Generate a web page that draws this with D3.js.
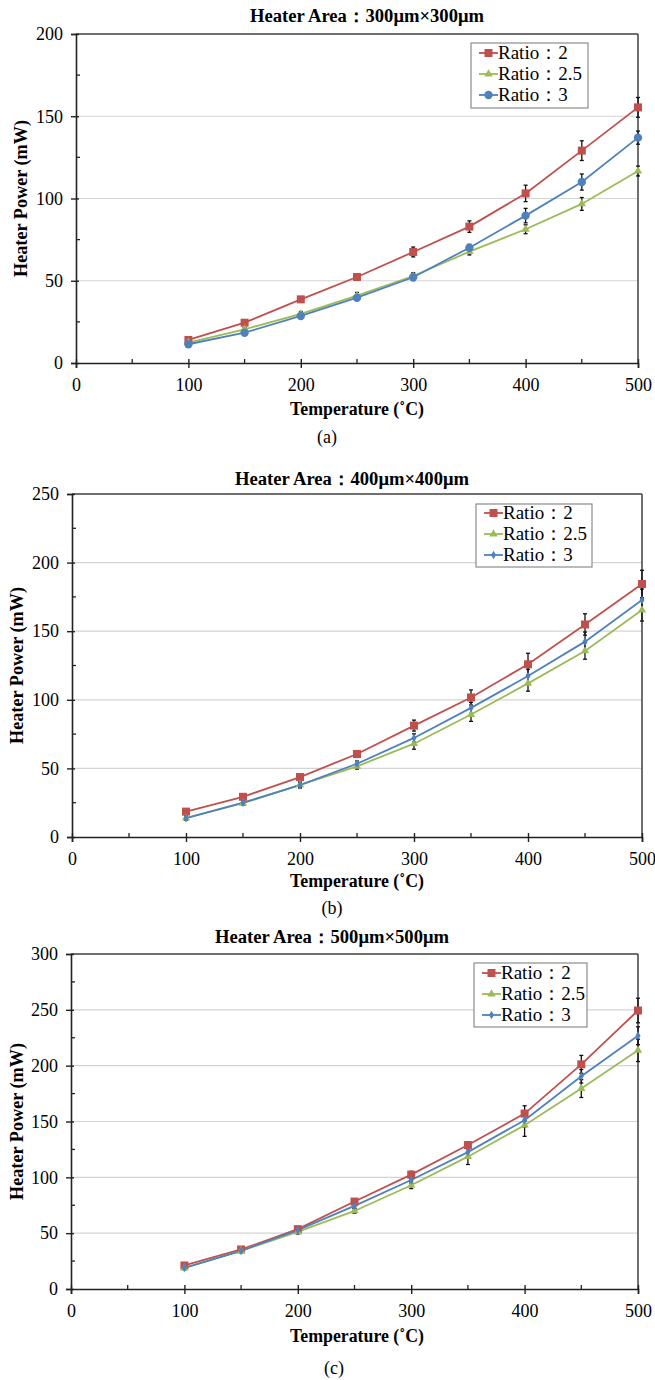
<!DOCTYPE html>
<html><head><meta charset="utf-8">
<script src="https://cdn.jsdelivr.net/npm/d3@7/dist/d3.min.js"></script>
<style>
body{margin:0;background:#fff;}
svg{display:block;}
text{font-family:"Liberation Serif","Times New Roman",serif;fill:#000;}
</style></head>
<body><svg id="c" width="655" height="1380"></svg>
<script>
// ---------- data ----------
const temps = [100,150,200,250,300,350,400,450,500];
const seriesNames = ["Ratio：2","Ratio：2.5","Ratio：3"];
const chartTitles = ["Heater Area：300μm×300μm","Heater Area：400μm×400μm","Heater Area：500μm×500μm"];
const captions = ["(a)","(b)","(c)"];
const xTicks = [0,100,200,300,400,500];
const yMaxes = [200,250,300];

// (a) 300um
const a_r2  = [14.0,24.5,38.7,52.3,67.5,82.9,103.1,129.1,155.4];
const a_r25 = [12.4,20.5,29.8,40.9,52.9,67.7,81.3,96.7,116.7];
const a_r3  = [11.4,18.4,28.6,39.7,52.1,70.1,89.6,110.0,137.0];
const a_e2  = [1.5,1.5,1.5,2,3,3.5,5,6,6];
const a_e25 = [1,1,1.5,2,2,2,2.7,3.9,3];
const a_e3  = [1,1,1,1.5,2,2,4.4,4.9,4];
// (b) 400um
const b_r2  = [18.5,29.3,43.7,60.5,81.2,101.7,125.9,154.9,184.4];
const b_r25 = [13.7,24.6,38.0,51.5,68.0,89.3,112.0,135.6,165.4];
const b_r3  = [13.7,25.0,37.8,53.4,72.2,94.1,117.3,142.4,172.7];
const b_e2  = [2,1.5,2,2.5,4,5.5,8,7.8,10];
const b_e25 = [1.5,1.5,2,2,4,5,5.7,6,8];
const b_e3  = [1.5,1.5,2,2,3,4,5,7,8];
// (c) 500um
const c_r2  = [21.1,35.4,53.6,78.3,102.4,128.9,157.1,201.2,249.4];
const c_r25 = [18.8,34.2,51.2,69.9,92.9,118.5,146.7,179.5,213.7];
const c_r3  = [19.0,34.2,52.7,74.4,97.6,122.6,151.2,190.5,226.8];
const c_e2  = [1.5,1.5,2,2,3,3,7,8,11];
const c_e25 = [1.5,1.5,2,2,3,7,10,8,10];
const c_e3  = [1.5,1.5,2,2,3,4,6,6,8];

const colors = ["#c0504d","#9bbb59","#4f81bd"];

// ---------- layout ----------
const layouts = [
  {x0:76,x1:638,yT:34,yB:363,titleX:367,titleY:22,yTitleX:21,xlab:390,xTitle:415,capX:327,capY:443,
   leg:[471,43,588,108],rows:[53,74,95],blue:"circle"},
  {x0:72,x1:642,yT:494,yB:837,titleX:352,titleY:485,yTitleX:17,xlab:864,xTitle:887,capX:332,capY:914,
   leg:[476,504,592,567],rows:[513,534,555],blue:"diamond"},
  {x0:71,x1:638,yT:954,yB:1289,titleX:332,titleY:943,yTitleX:17,xlab:1316,xTitle:1342,capX:334,capY:1374,
   leg:[474,963,587,1027],rows:[973,994,1015],blue:"diamond"}
];
const allSeries = [[a_r2,a_r25,a_r3],[b_r2,b_r25,b_r3],[c_r2,c_r25,c_r3]];
const allErr = [[a_e2,a_e25,a_e3],[b_e2,b_e25,b_e3],[c_e2,c_e25,c_e3]];

const svg = d3.select("#c");
const SERIF = "Liberation Serif";

function marker(g, type, x, y, color){
  if(type==="square"){
    g.append("rect").attr("x",x-4).attr("y",y-4).attr("width",8).attr("height",8).attr("fill",color);
  } else if(type==="triangle"){
    g.append("path").attr("d",d3.symbol(d3.symbolTriangle,30)()).attr("transform",`translate(${x},${y})`).attr("fill",color);
  } else if(type==="circle"){
    g.append("circle").attr("cx",x).attr("cy",y).attr("r",4.2).attr("fill",color);
  } else {
    g.append("path").attr("d",d3.symbol(d3.symbolDiamond,22)()).attr("transform",`translate(${x},${y})`).attr("fill",color);
  }
}

layouts.forEach((L,ci)=>{
  const g = svg.append("g").attr("font-family",SERIF);
  const x = d3.scaleLinear().domain([0,500]).range([L.x0,L.x1]);
  const y = d3.scaleLinear().domain([0,yMaxes[ci]]).range([L.yB,L.yT]);
  const majorY = d3.range(0,yMaxes[ci]+1,50);
  const minorY = d3.range(25,yMaxes[ci],50);
  const minorX = d3.range(50,500,100);

  // gridlines
  g.selectAll(".grid").data(majorY.filter(v=>v>0 && v<yMaxes[ci])).enter().append("line")
    .attr("x1",L.x0).attr("x2",L.x1).attr("y1",d=>y(d)).attr("y2",d=>y(d))
    .attr("stroke","#d4d4d4").attr("stroke-width",1.2);
  // frame top/right
  g.append("line").attr("x1",L.x0).attr("x2",L.x1).attr("y1",L.yT).attr("y2",L.yT).attr("stroke","#404040").attr("stroke-width",1.5);
  g.append("line").attr("x1",L.x1).attr("x2",L.x1).attr("y1",L.yT).attr("y2",L.yB).attr("stroke","#404040").attr("stroke-width",1.5);

  // axes
  const yAxis = d3.axisLeft(y).tickValues(majorY).tickSize(5).tickPadding(8).tickFormat(d3.format("d"));
  const ya = g.append("g").attr("transform",`translate(${L.x0},0)`).call(yAxis);
  const xAxis = d3.axisBottom(x).tickValues(xTicks).tickSize(5).tickPadding(10).tickFormat(d3.format("d"));
  const xa = g.append("g").attr("transform",`translate(0,${L.yB})`).call(xAxis);
  [ya,xa].forEach(a=>{
    a.attr("font-family",SERIF).attr("font-size",18);
    a.select(".domain").attr("stroke","#222").attr("stroke-width",1.6);
    a.selectAll(".tick line").attr("stroke","#222").attr("stroke-width",1.4);
    a.selectAll(".tick text").attr("font-size",18).attr("font-family",SERIF).attr("fill","#111");
  });
  ya.selectAll(".tick line").attr("x2",-5).attr("x1",3);
  xa.selectAll(".tick line").attr("y1",-4).attr("y2",5);
  // minor ticks
  g.selectAll(".my").data(minorY).enter().append("line")
    .attr("x1",L.x0).attr("x2",L.x0+4).attr("y1",d=>y(d)).attr("y2",d=>y(d)).attr("stroke","#222").attr("stroke-width",1.3);
  g.selectAll(".mx").data(minorX).enter().append("line")
    .attr("x1",d=>x(d)).attr("x2",d=>x(d)).attr("y1",L.yB).attr("y2",L.yB-4).attr("stroke","#222").attr("stroke-width",1.3);

  // series
  const types = ["square","triangle",L.blue];
  const line = d3.line().x((d,i)=>x(temps[i])).y(d=>y(d));
  allSeries[ci].forEach((vals,si)=>{
    g.append("path").datum(vals).attr("d",line).attr("fill","none").attr("stroke",colors[si]).attr("stroke-width",1.8);
  });
  allSeries[ci].forEach((vals,si)=>{
    const errs = allErr[ci][si];
    vals.forEach((v,i)=>{
      const xx = x(temps[i]), e = errs[i];
      g.append("line").attr("x1",xx).attr("x2",xx).attr("y1",y(v+e)).attr("y2",y(v-e)).attr("stroke","#111").attr("stroke-width",1.3);
      [v+e,v-e].forEach(w=>g.append("line").attr("x1",xx-2).attr("x2",xx+2).attr("y1",y(w)).attr("y2",y(w)).attr("stroke","#111").attr("stroke-width",1.3));
    });
  });
  allSeries[ci].forEach((vals,si)=>{
    vals.forEach((v,i)=>marker(g,types[si],x(temps[i]),y(v),colors[si]));
  });

  // legend
  const [lx0,ly0,lx1,ly1] = L.leg;
  g.append("rect").attr("x",lx0).attr("y",ly0).attr("width",lx1-lx0).attr("height",ly1-ly0)
    .attr("fill","#fff").attr("stroke","#8c8c8c").attr("stroke-width",1.2);
  seriesNames.forEach((nm,si)=>{
    const ry = L.rows[si];
    g.append("line").attr("x1",lx0+8).attr("x2",lx0+27).attr("y1",ry).attr("y2",ry).attr("stroke",colors[si]).attr("stroke-width",1.8);
    marker(g,types[si],lx0+17.5,ry,colors[si]);
    g.append("text").attr("x",lx0+27).attr("y",ry+6).attr("font-size",19).text(nm);
  });

  // titles
  g.append("text").attr("x",L.titleX).attr("y",L.titleY).attr("text-anchor","middle")
    .attr("font-size",18).attr("font-weight","bold").attr("textLength",234).attr("lengthAdjust","spacingAndGlyphs").text(chartTitles[ci]);
  g.append("text").attr("x",357).attr("y",L.xTitle).attr("text-anchor","middle")
    .attr("font-size",18).attr("font-weight","bold").attr("textLength",134).attr("lengthAdjust","spacingAndGlyphs").text("Temperature (˚C)");
  g.append("text").attr("transform",`translate(${L.yTitleX+6},${(L.yT+L.yB)/2}) rotate(-90)`).attr("text-anchor","middle")
    .attr("font-size",18).attr("font-weight","bold").attr("textLength",157).attr("lengthAdjust","spacingAndGlyphs").text("Heater Power (mW)");
  g.append("text").attr("x",L.capX).attr("y",L.capY).attr("text-anchor","middle").attr("font-size",18).text(captions[ci]);
});
</script></body></html>
